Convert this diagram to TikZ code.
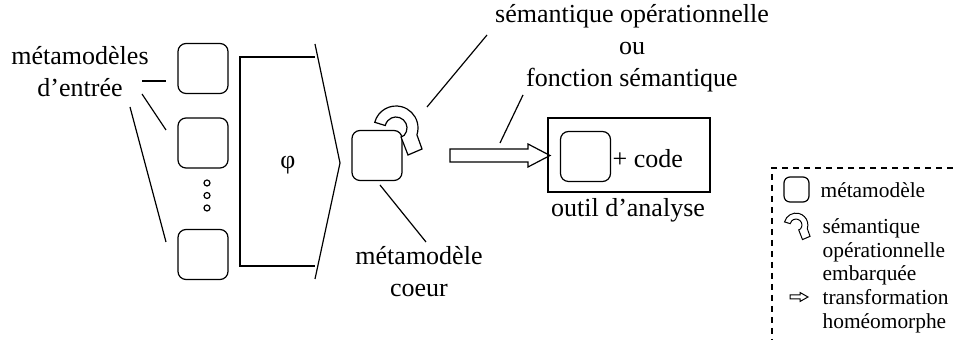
\documentclass[tikz,border=0pt]{standalone}
\usepackage{fontspec}
\setmainfont{Liberation Serif}
\usetikzlibrary{positioning}

\newcommand\legendfont{\fontsize{10.7}{11.8}\selectfont}

\tikzset{
  metabox/.style={draw,rounded corners=4pt,minimum size=25pt,inner sep=0pt},
  smallbox/.style={draw,rounded corners=3pt,minimum size=12.5pt,inner sep=0pt},
  dotnode/.style={draw,circle,minimum size=3pt,inner sep=0pt},
  lbl/.style={inner sep=0pt,align=center},
  lgtext/.style={inner sep=0pt,align=left,font=\legendfont},
  semloop/.pic={
    \draw[fill=white] (195:22) arc[start angle=195,end angle=378,radius=22]
      -- (26,21) -- (12,27) -- (5,9) -- (42:11)
      arc[start angle=42,end angle=-167,radius=11] -- cycle;
  }
}

\begin{document}
\begin{tikzpicture}[x=0.5pt,y=-0.5pt,line width=0.6pt,font=\fontsize{13}{16}\selectfont]
  \useasboundingbox (0,0) rectangle (953,340);

  % input metamodels
  \node[metabox] (in1) at (203,68.5) {};
  \node[metabox] (in2) at (203,143) {};
  \node[metabox] (in3) at (203,254.5) {};
  \foreach \y/\i in {183/1,195.5/2,208/3}
    \node[dotnode] (dot\i) at (207,\y) {};
  \node[lbl,anchor=north] (inlbl) at (80,46) {métamodèles\\d’entrée};
  \coordinate (la1) at (142,81);  \coordinate (lb1) at (166,81);
  \coordinate (la2) at (142,94);  \coordinate (lb2) at (166,130);
  \coordinate (la3) at (130,107); \coordinate (lb3) at (166,242);
  \foreach \i in {1,2,3}
    \draw (la\i) -- (lb\i);

  % phi bracket
  \draw (315,57) -- (240,57) -- (240,266) -- (315,266);
  \draw (315,44) -- (340,163) -- (315,279);
  \node (phi) at (288,165) {φ};

  % core metamodel
  \node[metabox] (core) at (377,155.5) {};
  \pic at (396,128) {semloop};
  \node[lbl,anchor=north] (corelbl) at (419,246) {métamodèle\\coeur};
  \coordinate (ca) at (380,185); \coordinate (cb) at (426,242);
  \draw (ca) -- (cb);

  % transformation
  \draw[fill=white] (450,149) -- (528,149) -- (528,144) -- (550,155.5)
    -- (528,167) -- (528,162) -- (450,162) -- cycle;

  % analysis tool
  \node[draw,minimum width=81pt,minimum height=37pt,inner sep=0pt] (tool) at (629,155) {};
  \node[metabox] (toolmm) at (585.5,156.5) {};
  \node[inner sep=0pt,anchor=base west] (code) at (612,168) {+ code};
  \node[inner sep=0pt,anchor=base] (toollbl) at (628,216.5) {outil d’analyse};

  % semantics label
  \node[lbl,anchor=north] (semop) at (632,4) {sémantique opérationnelle\\ou\\fonction sémantique};
  \coordinate (sa) at (427,107); \coordinate (sb) at (487,35);
  \coordinate (fa) at (500,143); \coordinate (fb) at (523,95);
  \draw (sa) -- (sb);
  \draw (fa) -- (fb);

  % legend
  \draw[dash pattern=on 3pt off 2.5pt] (953,168) -- (772,168) -- (772,340);
  \node[smallbox] (lgmm) at (796.5,189.5) {};
  \node[lgtext,anchor=base west] (lgmmtxt) at (820,198) {métamodèle};
  \pic[scale=0.54,line width=0.5pt] at (796,225) {semloop};
  \node[lgtext,anchor=north west] (lgsem) at (822,218) {sémantique\\opérationnelle\\embarquée};
  \draw[line width=0.5pt] (790,295) -- (800,295) -- (800,292.5) -- (808,297)
    -- (800,301.5) -- (800,299) -- (790,299) -- cycle;
  \node[lgtext,anchor=north west] (lgtr) at (822,289) {transformation\\homéomorphe};
\end{tikzpicture}
\end{document}
